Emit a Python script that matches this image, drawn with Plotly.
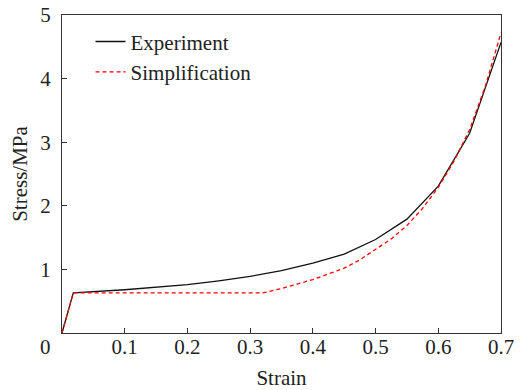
import plotly.graph_objects as go

# Experiment curve
strain_exp = [0, 0.018, 0.1, 0.2, 0.25, 0.3, 0.35, 0.4, 0.45, 0.5, 0.55, 0.6, 0.65, 0.7]
stress_exp = [0, 0.63, 0.68, 0.76, 0.82, 0.89, 0.98, 1.10, 1.24, 1.47, 1.79, 2.31, 3.14, 4.57]

# Simplified curve
strain_sim = [0, 0.018, 0.32, 0.335, 0.35, 0.375, 0.4, 0.425, 0.45, 0.475, 0.5, 0.525,
              0.55, 0.575, 0.6, 0.625, 0.65, 0.675, 0.7]
stress_sim = [0, 0.63, 0.63, 0.66, 0.70, 0.77, 0.84, 0.93, 1.02, 1.15, 1.31, 1.48,
              1.69, 1.96, 2.29, 2.70, 3.20, 3.88, 4.72]

x_ticks = [0, 0.1, 0.2, 0.3, 0.4, 0.5, 0.6, 0.7]
x_labels = ["", "0.1", "0.2", "0.3", "0.4", "0.5", "0.6", "0.7"]
y_ticks = [1, 2, 3, 4, 5]
y_labels = ["1", "2", "3", "4", "5"]

FONT = "Liberation Serif, Times New Roman, serif"
FS = 21

fig = go.Figure()
fig.add_trace(go.Scatter(x=strain_exp, y=stress_exp, mode="lines", name="Experiment",
                         line=dict(color="#111111", width=1.3)))
fig.add_trace(go.Scatter(x=strain_sim, y=stress_sim, mode="lines", name="Simplification",
                         line=dict(color="#ff0000", width=1.3, dash="4px,3px")))

axis_common = dict(showgrid=False, zeroline=False, showline=True, linecolor="#333333",
                   linewidth=1.3, mirror=True, ticks="inside", ticklen=5, tickwidth=1.3,
                   tickcolor="#333333", automargin=False, ticklabeloverflow="allow",
                   tickfont=dict(family=FONT, size=FS, color="#222222"))

fig.update_xaxes(range=[0, 0.7], tickvals=x_ticks, ticktext=x_labels,
                 title=dict(text="Strain", font=dict(family=FONT, size=FS, color="#222222"),
                            standoff=12),
                 ticklabelstandoff=-5, **axis_common)
fig.update_yaxes(range=[0, 5], tickvals=y_ticks, ticktext=y_labels,
                 title=dict(text="Stress/MPa", font=dict(family=FONT, size=FS, color="#222222"),
                            standoff=6),
                 ticklabelstandoff=6, **axis_common)

fig.add_annotation(x=0, y=0, xref="x", yref="y", text="0", showarrow=False,
                   xanchor="right", yanchor="top", xshift=-9, yshift=0,
                   font=dict(family=FONT, size=FS, color="#222222"))

fig.update_layout(
    width=520, height=390,
    margin=dict(l=62, r=19, t=15, b=57),
    paper_bgcolor="white", plot_bgcolor="white",
    font=dict(family=FONT, size=FS, color="#222222"),
    showlegend=True,
    legend=dict(x=0.065, y=0.98, xanchor="left", yanchor="top", bgcolor="rgba(0,0,0,0)",
                font=dict(family=FONT, size=FS, color="#222222"), tracegroupgap=0,
                itemwidth=30),
)

# remove the default 8px page margin so the 520x390 figure fills the window exactly
fig.write_html("out.html", config={"displayModeBar": False},
               post_script="document.body.style.margin='0';")
